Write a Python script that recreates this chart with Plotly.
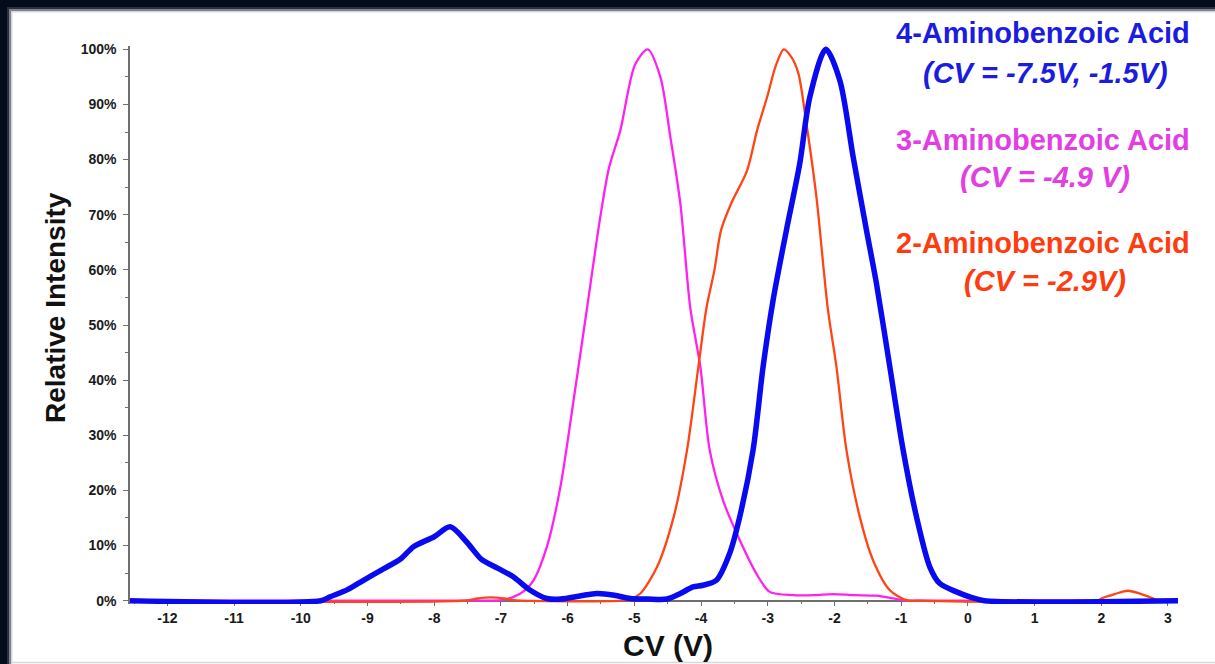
import plotly.graph_objects as go

# Compensation-voltage scans of the three aminobenzoic acid isomers
cv_4ab = [-12.56, -9.7, -9.56, -9.3, -9.06, -8.8, -8.5, -8.31, -8.0, -7.76, -7.51,
          -7.3, -7.05, -6.81, -6.56, -6.31, -6.1, -5.8, -5.56, -5.3, -5.06, -4.8,
          -4.51, -4.31, -4.12, -3.97, -3.77, -3.57, -3.42, -3.22, -3.07, -2.92, -2.72,
          -2.52, -2.37, -2.13, -1.92, -1.72, -1.52, -1.37, -1.17, -0.97, -0.77, -0.57,
          -0.42, -0.17, 0.05, 0.25, 3.15]
int_4ab = [0, 0, 0.7, 2.0, 3.7, 5.5, 7.6, 9.8, 11.6, 13.4, 10.6,
           7.6, 5.9, 4.3, 1.9, 0.4, 0.3, 0.9, 1.3, 1.0, 0.4, 0.3,
           0.3, 1.3, 2.5, 2.8, 3.7, 8.6, 15.2, 27.3, 42.4, 54.5, 67.2,
           79.3, 91.3, 100, 94.4, 80.5, 67.2, 57.5, 42.4, 27.3, 15.2, 6.1,
           3.1, 1.6, 0.6, 0, 0]

cv_3ab = [-12.56, -7.3, -7.0, -6.81, -6.65, -6.51, -6.31, -6.11, -5.91, -5.71, -5.51,
          -5.38, -5.21, -4.99, -4.80, -4.61, -4.46, -4.31, -4.16, -4.01, -3.87, -3.67,
          -3.42, -3.17, -2.97, -2.62, -2.3, -2.02, -1.7, -1.37, -1.12, -0.95, -0.7, 3.15]
int_3ab = [0, 0, 0.1, 0.7, 1.8, 3.7, 9.8, 20.5, 36.4, 53, 69.6,
           78.5, 85.3, 97.2, 100, 95.0, 84.1, 72, 53, 42.4, 27.3, 18.2,
           11, 4.9, 1.6, 1.0, 1.0, 1.2, 1.0, 0.9, 0.4, 0.05, 0, 0]

cv_2ab = [-12.56, -7.56, -7.35, -7.16, -6.95, -6.81, -5.2, -5.06, -4.91, -4.66, -4.41,
          -4.21, -4.04, -3.92, -3.80, -3.70, -3.55, -3.31, -3.16, -3.01, -2.88, -2.76,
          -2.64, -2.54, -2.42, -2.27, -2.10, -1.97, -1.82, -1.62, -1.42, -1.17, -0.92,
          -0.7, 1.95, 2.0, 2.2, 2.4, 2.6, 2.78, 2.85, 3.15]
int_2ab = [0, 0, 0.4, 0.6, 0.4, 0.1, 0, 0.3, 1.3, 6.1, 15.2,
           27.3, 42.4, 53, 59.9, 67.2, 72, 78, 85.3, 91.3, 97, 100,
           98.5, 95.6, 86.5, 73.2, 53, 42.4, 27.3, 15.2, 7.3, 1.9, 0.1,
           0, 0, 0.4, 1.2, 1.8, 1.2, 0.4, 0, 0]

x_tick_values = [-12, -11, -10, -9, -8, -7, -6, -5, -4, -3, -2, -1, 0, 1, 2, 3]
x_tick_labels = ["-12", "-11", "-10", "-9", "-8", "-7", "-6", "-5", "-4", "-3", "-2", "-1",
                 "0", "1", "2", "3"]
y_tick_values = [0, 10, 20, 30, 40, 50, 60, 70, 80, 90, 100]
y_tick_labels = ["0%", "10%", "20%", "30%", "40%", "50%", "60%", "70%", "80%", "90%", "100%"]

legend_lines = [
    ("4-Aminobenzoic Acid", "(CV = -7.5V, -1.5V)", "#1c1ce0"),
    ("3-Aminobenzoic Acid", "(CV = -4.9 V)", "#e23ee2"),
    ("2-Aminobenzoic Acid", "(CV = -2.9V)", "#ff3c10"),
]

W, H = 1215, 664
L, R, T, B = 130, 37, 46, 60
PW, PH = W - L - R, H - T - B


def px(xp):
    return (xp - L) / PW


def py(yp):
    return (H - B - yp) / PH


fig = go.Figure()
fig.add_trace(go.Scatter(x=cv_3ab, y=int_3ab, mode="lines",
                         line=dict(color="#ff22ee", width=2.3, shape="spline", smoothing=0.8)))
fig.add_trace(go.Scatter(x=cv_2ab, y=int_2ab, mode="lines",
                         line=dict(color="#ff4515", width=2.3, shape="spline", smoothing=0.8)))
fig.add_trace(go.Scatter(x=cv_4ab, y=int_4ab, mode="lines",
                         line=dict(color="#0a0af0", width=5.5, shape="spline", smoothing=0.8)))

tick_font = dict(family="Liberation Sans, Arial, sans-serif", size=14, color="#1a1a1a", weight="bold")
axis_grey = "#6e6e6e"

fig.update_layout(
    width=W, height=H,
    margin=dict(l=L, r=R, t=T, b=B),
    paper_bgcolor="#040b1a",
    plot_bgcolor="white",
    showlegend=False,
    xaxis=dict(
        range=[-12.56, 3.15], anchor="free", position=0.6 / 101.2,
        showline=True, linecolor=axis_grey, linewidth=1.5,
        ticks="outside", ticklen=5, tickcolor=axis_grey, tickwidth=1.2,
        tickmode="array", tickvals=x_tick_values, ticktext=x_tick_labels, tickfont=tick_font,
        minor=dict(tickmode="linear", tick0=0, dtick=0.5, ticks="outside", ticklen=3,
                   tickcolor=axis_grey),
        showgrid=False, zeroline=False, layer="below traces",
    ),
    yaxis=dict(
        range=[-0.6, 100.6],
        showline=True, linecolor=axis_grey, linewidth=1.5,
        ticks="outside", ticklen=5, tickcolor=axis_grey, tickwidth=1.2,
        tickmode="array", tickvals=y_tick_values, ticktext=y_tick_labels, tickfont=tick_font,
        minor=dict(tickmode="linear", tick0=0, dtick=5, ticks="outside", ticklen=3,
                   tickcolor=axis_grey),
        ticklabelstandoff=4,
        showgrid=False, zeroline=False, layer="below traces",
    ),
)

# White slide panel with a soft edge over the dark frame
for edge, col in [(7, "#2a3040"), (9, "#7d828c"), (11, "#d4d6da"), (12.5, "#ffffff")]:
    fig.add_shape(type="rect", xref="paper", yref="paper", layer="below",
                  x0=px(edge), x1=px(W + 5), y0=py(H + 5), y1=py(edge),
                  line=dict(width=0), fillcolor=col)
fig.add_shape(type="line", xref="paper", yref="paper", layer="below",
              x0=px(12.5), x1=px(W + 5), y0=py(662.5), y1=py(662.5),
              line=dict(color="#d8d8d8", width=1.5))

# Axis titles
fig.add_annotation(xref="paper", yref="paper", x=px(55), y=py(308), text="Relative Intensity",
                   textangle=-90, showarrow=False, xanchor="center", yanchor="middle",
                   font=dict(family="Liberation Sans, Arial, sans-serif", size=28,
                             color="#111111", weight="bold"))
fig.add_annotation(xref="paper", yref="paper", x=px(668), y=py(645), text="CV (V)",
                   showarrow=False, xanchor="center", yanchor="middle",
                   font=dict(family="Liberation Sans, Arial, sans-serif", size=30,
                             color="#111111", weight="bold"))

# Compound labels
label_rows = [(33, 73), (140, 177), (243, 281)]
for (name, cv_text, col), (y1, y2) in zip(legend_lines, label_rows):
    fig.add_annotation(xref="paper", yref="paper", x=px(1043), y=py(y1), text=name,
                       showarrow=False, xanchor="center", yanchor="middle",
                       font=dict(family="Liberation Sans, Arial, sans-serif", size=29,
                                 color=col, weight="bold"))
    fig.add_annotation(xref="paper", yref="paper", x=px(1045), y=py(y2), text=f"<i>{cv_text}</i>",
                       showarrow=False, xanchor="center", yanchor="middle",
                       font=dict(family="Liberation Sans, Arial, sans-serif", size=29,
                                 color=col, weight="bold"))

fig.write_html("out.html")
